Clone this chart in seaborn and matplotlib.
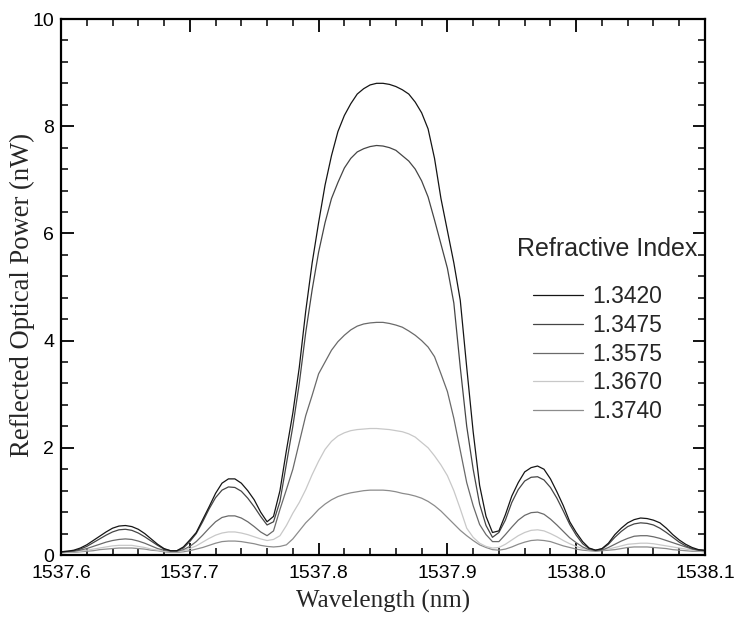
import numpy as np
import pandas as pd
import matplotlib
matplotlib.use("Agg")
import matplotlib.pyplot as plt
import seaborn as sns
from matplotlib.ticker import MultipleLocator

# Wavelength grid (nm), 0.005 nm steps read across the plot
wavelength = [round(1537.6 + 0.005 * i, 3) for i in range(101)]

ri_labels = ["1.3420", "1.3475", "1.3575", "1.3670", "1.3740"]

p_13420 = [0.06, 0.07, 0.09, 0.13, 0.19, 0.27, 0.35, 0.43, 0.50, 0.54,
           0.55, 0.53, 0.48, 0.40, 0.30, 0.20, 0.12, 0.08, 0.08, 0.15,
           0.28, 0.42, 0.66, 0.90, 1.15, 1.34, 1.42, 1.42, 1.34, 1.20,
           1.03, 0.80, 0.62, 0.72, 1.20, 1.95, 2.65, 3.50, 4.55, 5.45,
           6.20, 6.90, 7.45, 7.90, 8.20, 8.42, 8.60, 8.70, 8.77, 8.80,
           8.80, 8.78, 8.74, 8.68, 8.60, 8.45, 8.25, 7.95, 7.40, 6.65,
           6.05, 5.45, 4.75, 3.50, 2.30, 1.30, 0.72, 0.42, 0.45, 0.75,
           1.10, 1.35, 1.55, 1.63, 1.66, 1.60, 1.42, 1.18, 0.92, 0.62,
           0.42, 0.25, 0.13, 0.09, 0.12, 0.22, 0.38, 0.50, 0.60, 0.66,
           0.69, 0.68, 0.65, 0.60, 0.50, 0.38, 0.28, 0.20, 0.14, 0.10,
           0.09]

p_13475 = [0.06, 0.07, 0.08, 0.11, 0.16, 0.23, 0.30, 0.37, 0.43, 0.47,
           0.48, 0.46, 0.41, 0.34, 0.26, 0.18, 0.11, 0.08, 0.08, 0.13,
           0.25, 0.40, 0.62, 0.86, 1.07, 1.21, 1.27, 1.26, 1.19, 1.06,
           0.90, 0.72, 0.56, 0.62, 1.00, 1.70, 2.40, 3.20, 4.15, 4.95,
           5.65, 6.20, 6.65, 6.95, 7.22, 7.40, 7.52, 7.58, 7.62, 7.64,
           7.63, 7.60, 7.55, 7.45, 7.35, 7.20, 6.98, 6.68, 6.25, 5.80,
           5.35, 4.70, 3.50, 2.40, 1.60, 0.95, 0.55, 0.33, 0.42, 0.65,
           0.98, 1.22, 1.38, 1.45, 1.46, 1.40, 1.26, 1.06, 0.82, 0.57,
           0.37, 0.21, 0.12, 0.09, 0.11, 0.20, 0.33, 0.44, 0.53, 0.58,
           0.60, 0.59, 0.56, 0.50, 0.42, 0.33, 0.24, 0.17, 0.12, 0.09,
           0.08]

p_13575 = [0.05, 0.06, 0.07, 0.09, 0.12, 0.16, 0.20, 0.24, 0.27, 0.29,
           0.30, 0.29, 0.26, 0.22, 0.17, 0.12, 0.09, 0.07, 0.07, 0.10,
           0.16, 0.25, 0.37, 0.50, 0.62, 0.70, 0.73, 0.73, 0.69, 0.62,
           0.53, 0.43, 0.36, 0.45, 0.85, 1.22, 1.60, 2.10, 2.60, 2.98,
           3.38, 3.60, 3.82, 3.98, 4.10, 4.20, 4.27, 4.31, 4.33, 4.34,
           4.34, 4.32, 4.29, 4.25, 4.18, 4.10, 4.00, 3.88, 3.70, 3.38,
           3.05, 2.55, 1.95, 1.35, 0.92, 0.57, 0.38, 0.25, 0.25, 0.38,
           0.52, 0.65, 0.74, 0.79, 0.80, 0.76, 0.67, 0.56, 0.44, 0.32,
           0.23, 0.15, 0.10, 0.08, 0.09, 0.14, 0.20, 0.26, 0.31, 0.35,
           0.36, 0.36, 0.34, 0.31, 0.27, 0.23, 0.19, 0.15, 0.11, 0.09,
           0.08]

p_13670 = [0.05, 0.05, 0.06, 0.07, 0.09, 0.11, 0.13, 0.15, 0.17, 0.18,
           0.18, 0.18, 0.16, 0.14, 0.11, 0.09, 0.07, 0.06, 0.06, 0.08,
           0.12, 0.17, 0.24, 0.31, 0.37, 0.41, 0.43, 0.43, 0.41, 0.38,
           0.34, 0.30, 0.27, 0.29, 0.36, 0.55, 0.78, 0.98, 1.22, 1.50,
           1.75, 1.97, 2.12, 2.22, 2.28, 2.32, 2.34, 2.35, 2.36, 2.36,
           2.35, 2.34, 2.32, 2.30, 2.26, 2.20, 2.10, 2.00, 1.85, 1.68,
           1.48, 1.20, 0.86, 0.50, 0.33, 0.22, 0.16, 0.13, 0.14, 0.20,
           0.28, 0.36, 0.42, 0.46, 0.47, 0.45, 0.40, 0.34, 0.27, 0.21,
           0.16, 0.12, 0.09, 0.08, 0.09, 0.11, 0.14, 0.17, 0.20, 0.21,
           0.22, 0.22, 0.21, 0.19, 0.17, 0.15, 0.13, 0.11, 0.09, 0.08,
           0.07]

p_13740 = [0.04, 0.05, 0.05, 0.06, 0.07, 0.08, 0.10, 0.11, 0.12, 0.13,
           0.13, 0.13, 0.12, 0.11, 0.09, 0.08, 0.06, 0.05, 0.05, 0.06,
           0.08, 0.11, 0.14, 0.18, 0.22, 0.25, 0.26, 0.26, 0.25, 0.23,
           0.21, 0.18, 0.16, 0.15, 0.16, 0.19, 0.30, 0.45, 0.60, 0.72,
           0.85, 0.95, 1.03, 1.09, 1.13, 1.16, 1.18, 1.20, 1.21, 1.21,
           1.21, 1.20, 1.18, 1.15, 1.13, 1.10, 1.06, 1.00, 0.92, 0.82,
           0.70, 0.58, 0.46, 0.36, 0.27, 0.19, 0.14, 0.10, 0.09, 0.11,
           0.15, 0.20, 0.24, 0.27, 0.28, 0.27, 0.25, 0.21, 0.17, 0.14,
           0.11, 0.09, 0.08, 0.07, 0.08, 0.09, 0.10, 0.12, 0.14, 0.15,
           0.15, 0.15, 0.14, 0.13, 0.12, 0.10, 0.09, 0.08, 0.07, 0.07,
           0.06]

series = [p_13420, p_13475, p_13575, p_13670, p_13740]
colors = ["#151515", "#454545", "#6a6a6a", "#c8c8c8", "#8c8c8c"]

x_ticks = [1537.6, 1537.7, 1537.8, 1537.9, 1538.0, 1538.1]
y_ticks = [0, 2, 4, 6, 8, 10]

sns.set_theme(style="ticks")
plt.rcParams["font.family"] = ["Liberation Sans", "DejaVu Sans"]

fig = plt.figure(figsize=(7.35, 6.17), dpi=100)
ax = fig.add_axes([61 / 735, 1 - 555 / 617, 644 / 735, 536 / 617])

df = pd.concat([pd.DataFrame({"wl": wavelength, "p": s, "ri": lab})
                for s, lab in zip(series, ri_labels)], ignore_index=True)

# darker curves drawn last so they sit on top
for lab, col in reversed(list(zip(ri_labels, colors))):
    sub = df[df["ri"] == lab]
    sns.lineplot(data=sub, x="wl", y="p", color=col, lw=0.9, ax=ax,
                 estimator=None, label=lab, legend=False)

ax.set_xlim(1537.6, 1538.1)
ax.set_ylim(0, 10)
ax.set_xticks(x_ticks)
ax.set_xticklabels([f"{v:.1f}" for v in x_ticks])
ax.set_yticks(y_ticks)
ax.set_yticklabels([str(v) for v in y_ticks])
ax.xaxis.set_minor_locator(MultipleLocator(0.02))
ax.yaxis.set_minor_locator(MultipleLocator(0.4))
ax.tick_params(which="both", direction="in", top=True, right=True,
               labelsize=14, colors="black")
ax.tick_params(which="major", length=9, width=1.3)
ax.tick_params(which="minor", length=5, width=1.1)
ax.tick_params(axis="x", pad=7)
ax.tick_params(axis="y", pad=5)
for sp in ax.spines.values():
    sp.set_linewidth(1.6)
    sp.set_color("black")

ax.set_xlabel("Wavelength (nm)", family=["Liberation Serif"], fontsize=18,
              labelpad=6)
ax.set_ylabel("Reflected Optical Power (nW)", family=["Liberation Serif"],
              fontsize=19.2)
ax.yaxis.set_label_coords(-(61 - 35) / 644, (555 - 295) / 536)

handles, labels = ax.get_legend_handles_labels()
order = [labels.index(l) for l in ri_labels]
leg = ax.legend([handles[i] for i in order], ri_labels,
                title="Refractive Index", frameon=False, fontsize=16.5,
                title_fontsize=18, loc="upper left", alignment="left",
                bbox_to_anchor=(0.708, 0.5925), borderpad=0, borderaxespad=0,
                handlelength=2.2, handletextpad=0.4, labelspacing=0.25)
leg._legend_handle_box.pad = 11.5
leg._legend_box.sep = 5.6

fig.savefig("out.png", dpi=100)
